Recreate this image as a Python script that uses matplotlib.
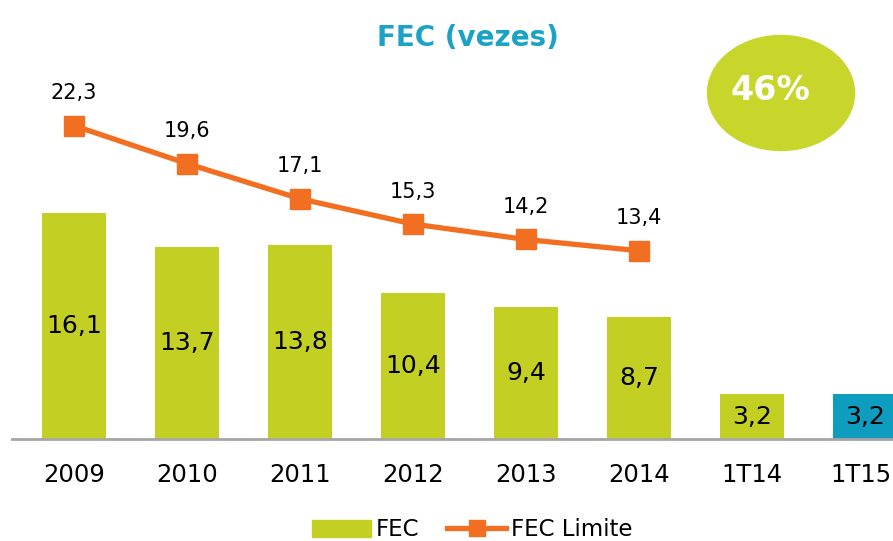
import matplotlib
matplotlib.use('Agg')
import matplotlib.pyplot as plt
import matplotlib.transforms as mtransforms
from matplotlib.patches import Ellipse, Patch
from matplotlib.lines import Line2D

plt.rcParams['font.family'] = ['DejaVu Sans']

# data
categories = ['2009', '2010', '2011', '2012', '2013', '2014', '1T14', '1T15']
fec = [16.1, 13.7, 13.8, 10.4, 9.4, 8.7, 3.2, 3.2]
fec_limite = [22.3, 19.6, 17.1, 15.3, 14.2, 13.4]
fec_labels = ['16,1', '13,7', '13,8', '10,4', '9,4', '8,7', '3,2', '3,2']
limite_labels = ['22,3', '19,6', '17,1', '15,3', '14,2', '13,4']

green = '#C3CF23'
teal = '#0E9DBE'
orange = '#F26F21'
title_col = '#1BA3C6'

fig = plt.figure(figsize=(8.93, 5.41), dpi=100)
ax = fig.add_axes([12 / 893, 1 - 439 / 541, 1 - 12 / 893, (439 - 60) / 541])

x = list(range(len(categories)))
colors = [green] * (len(categories) - 1) + [teal]
ax.bar(x, fec, width=0.57, color=colors, zorder=2)
for xi, v, lab in zip(x, fec, fec_labels):
    ax.text(xi, v / 2, lab, ha='center', va='center', fontsize=18, color='black', zorder=4)

xl = x[:len(fec_limite)]
ax.plot(xl, fec_limite, color=orange, lw=3.8, marker='s', markersize=14.5, zorder=3)
for xi, v, lab in zip(xl, fec_limite, limite_labels):
    ax.text(xi, v + 1.6, lab, ha='center', va='bottom', fontsize=15, color='black')

ax.set_xlim(-0.55, 7.25)
ax.set_ylim(0, (439 - 60) / 14.05)
ax.set_xticks(x)
ax.set_xticklabels(categories, fontsize=17.5)
ax.tick_params(axis='x', length=0, pad=17)
# last label sits right on the edge, nudge it in a little
last = ax.get_xticklabels()[-1]
last.set_transform(last.get_transform() + mtransforms.ScaledTranslation(-4 / 100, 0, fig.dpi_scale_trans))
ax.set_yticks([])
for s in ['top', 'right', 'left']:
    ax.spines[s].set_visible(False)
ax.spines['bottom'].set_color('#A6A6A6')
ax.spines['bottom'].set_linewidth(2)

# title
fig.text(468 / 893, 1 - 38 / 541, 'FEC (vezes)', ha='center', va='center',
         fontsize=20, fontweight='bold', color=title_col)

# 46% bubble
ell = Ellipse((781 / 893, 1 - 93 / 541), 147 / 893, 115 / 541,
              transform=fig.transFigure, color='#C8D62B', zorder=5)
fig.patches.append(ell)
fig.text(770 / 893, 1 - 91 / 541, '46%', ha='center', va='center',
         fontsize=24, fontweight='bold', color='white', zorder=6)

# legend
handles = [Patch(color=green, label='FEC'),
           Line2D([0], [0], color=orange, lw=3.8, marker='s', markersize=12, label='FEC Limite')]
fig.legend(handles=handles, loc='center', bbox_to_anchor=(472 / 893, 1 - 530 / 541),
           ncol=2, frameon=False, fontsize=16.5, handlelength=2.6, handletextpad=0.2,
           columnspacing=1.2)

fig.savefig('out.png', dpi=100)
